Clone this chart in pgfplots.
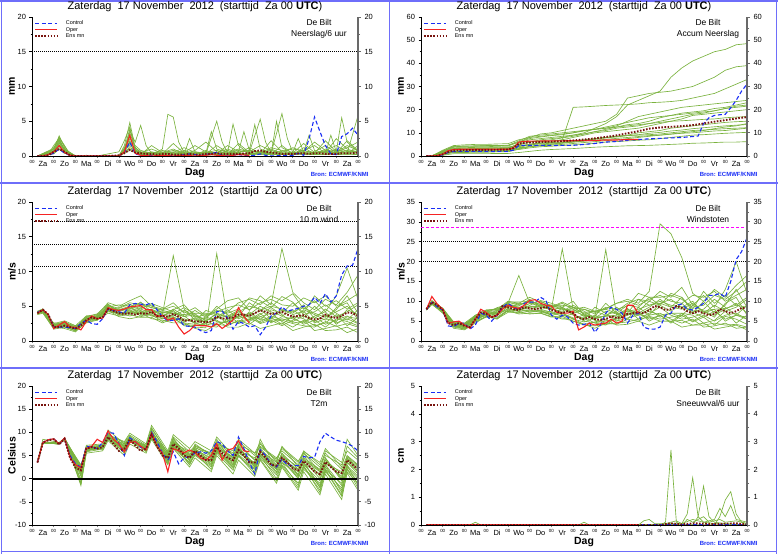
\documentclass[border=0pt]{standalone}
\usepackage{fontspec}
\setmainfont{Liberation Sans}
\usepackage{pgfplots}
\pgfplotsset{compat=1.18}

\definecolor{memg}{RGB}{122,178,62}
\definecolor{ctrlc}{RGB}{25,45,245}
\definecolor{operc}{RGB}{245,35,35}
\definecolor{ensc}{RGB}{120,20,15}
\definecolor{framec}{RGB}{110,110,250}
\definecolor{magc}{RGB}{255,0,255}
\definecolor{raxc}{RGB}{105,105,105}

\newcommand{\fs}[1]{\fontsize{#1}{#1}\selectfont}

\tikzset{
  debilt/.style={font=\fontsize{8.5}{10.5}\selectfont, align=center, anchor=center, xshift=-39bp, yshift=-12bp},
  bron/.style={font=\fs{6}\bfseries, text=ctrlc, anchor=east, xshift=14bp, yshift=-18bp},
}

\pgfplotsset{
  memb/.style={color=memg, line width=0.65bp, forget plot},
  ctl/.style={color=ctrlc, line width=1.1bp, dash pattern=on 4bp off 2.5bp},
  opr/.style={color=operc, line width=1.1bp},
  ens/.style={color=ensc, line width=1.9bp, dash pattern=on 1.6bp off 1.5bp},
  hl/.style={black, line width=0.6bp, dash pattern=on 0.8bp off 1.2bp, forget plot},
  panel/.style={
    scale only axis, width=326bp, height=139bp, anchor=south west,
    xmin=0, xmax=15, clip=true, clip mode=individual,
    axis x line*=bottom, axis y line*=left,
    axis line style={line width=0.6bp, black},
    tick align=outside,
    major tick length=2.5bp, minor tick length=1.5bp,
    xtick={0,...,15}, xticklabel={00},
    x tick label style={font=\fs{4.5}, yshift=1.5bp},
    minor x tick num=3,
    xtick style={gray, line width=0.7bp},
    extra x ticks={0.5,1.5,...,14.5},
    extra x tick labels={Za,Zo,Ma,Di,Wo,Do,Vr,Za,Zo,Ma,Di,Wo,Do,Vr,Za},
    extra x tick style={major tick length=0pt, x tick label style={font=\fs{7.5}, yshift=-3.5bp}},
    y tick label style={font=\fs{7.5}},
    ytick style={black, line width=0.5bp},
    minor y tick num=1,
    /pgf/number format/assume math mode=true,
    xlabel={Dag},
    xlabel style={font=\fs{10.5}\bfseries, at={(0.5,0)}, anchor=center, yshift=-17bp},
    ylabel style={font=\fs{10.5}\bfseries, at={(0,0.5)}, anchor=center, yshift=20bp},
    title style={font=\fs{11}, at={(0.5,1)}, anchor=center, yshift=4bp},
    title={Zaterdag\ \ 17 November\ \ 2012\ \ (starttijd\ \ Za 00 \textbf{UTC})},
    legend style={at={(0,1)}, anchor=north west, xshift=2bp, yshift=-3bp, draw=none, fill=none, font=\fs{5.5}, inner sep=0pt, row sep=-0.5bp, nodes={inner sep=0.7bp}, /tikz/every odd column/.append style={column sep=7bp}},
    legend cell align=left,
    legend image code/.code={\draw[##1] (0bp,0bp) -- (22bp,0bp);},
  },
  rightaxis/.style={
    scale only axis, width=326bp, height=139bp, anchor=south west,
    xmin=0, xmax=15,
    axis x line=none, axis y line*=right,
    y axis line style={line width=1.8bp, raxc},
    tick align=outside, major tick length=3bp, minor tick length=2bp,
    ytick style={raxc, line width=0.8bp},
    minor y tick num=1,
    y tick label style={font=\fs{7.5}},
    /pgf/number format/assume math mode=true,
  },
}

\begin{document}
\begin{tikzpicture}[x=1bp,y=1bp]
\path[use as bounding box] (0,0) rectangle (778,554);
\draw[framec, line width=1.5bp] (1.5,2.5) -- (776.5,2.5);
\draw[framec, line width=1.5bp] (1.5,0) -- (1.5,554);
\draw[framec, line width=1.5bp] (389.5,0) -- (389.5,554);
\draw[framec, line width=1.5bp] (776.5,0) -- (776.5,554);
\draw[framec, line width=1.5bp] (0,371) -- (778,371);
\draw[framec, line width=1.5bp] (0,186) -- (778,186);
\draw[framec, line width=1.5bp] (0,553) -- (778,553);

%================ Panel 1: Neerslag/6 uur
\begin{axis}[panel, at={(32bp,398bp)}, ymin=0, ymax=20, ytick={0,5,...,20}, ylabel={mm}]
\addplot[hl] coordinates {(0,15)(15,15)};
\addplot[memb] coordinates {(0.25,0)(0.75,0.1)(1,0.8)(1.25,2.9)(1.5,1.2)(1.75,0.2)(2,0)(4,0)(4.25,1.5)(4.5,4.8)(4.75,1.2)(5,0.4)(5.5,0.2)(6,1.0)(6.25,6.0)(6.5,5.6)(6.75,2.0)(7,0.5)(7.5,0.3)(8,0.5)(8.5,0.2)(9,0.8)(9.5,0.3)(10,0.2)(10.5,0.6)(11,0.2)(11.5,1.5)(12,0.3)(12.5,0.5)(13,0.2)(13.5,1.0)(14,0.4)(14.5,0.8)(15,0.5)};
\addplot[memb] coordinates {(0.25,0)(0.75,0.2)(1,1.2)(1.25,2.4)(1.5,0.6)(1.75,0.1)(2,0)(4,0.1)(4.25,0.8)(4.5,3.6)(4.75,2.0)(5,4.4)(5.25,1.5)(5.5,0.4)(6,0.2)(6.5,0.5)(7,0.3)(7.25,2.5)(7.5,0.6)(8,0.3)(8.5,5.0)(8.75,2.0)(9,0.4)(9.5,0.2)(10,0.5)(10.5,5.3)(10.75,2.0)(11,0.5)(11.5,0.3)(12,0.2)(12.5,1.2)(13,0.3)(13.5,0.2)(14,0.6)(14.25,5.5)(14.5,2.0)(15,0.6)};
\addplot[memb] coordinates {(0.25,0)(1,0.6)(1.25,1.8)(1.5,0.8)(2,0)(3,0)(3.5,0.3)(4,0.6)(4.25,2.2)(4.5,4.2)(4.75,0.8)(5,0.3)(5.5,0.2)(6,0.4)(6.5,0.3)(7,0.2)(7.5,0.5)(8,0.4)(8.25,3.5)(8.5,1.0)(9,0.5)(9.25,4.6)(9.5,1.5)(10,0.3)(10.5,0.4)(11,0.3)(11.25,5.0)(11.5,1.2)(12,0.4)(12.5,0.3)(13,0.2)(13.5,0.3)(13.75,3.0)(14,0.6)(14.5,0.4)(15,5.8)};
\addplot[memb] coordinates {(0.25,0)(1,0.3)(1.25,1.0)(1.5,0.4)(2,0)(4,0)(4.5,1.5)(5,0.3)(6,0.1)(7,0.2)(8,0.1)(9,0.3)(10,0.2)(11,0.3)(12,0.2)(13,0.3)(14,0.2)(15,0.3)};
\addplot[memb] coordinates {(0.25,0)(0.75,0.3)(1,1.5)(1.25,2.6)(1.5,1.4)(1.75,0.3)(2,0)(4,0)(4.25,1.2)(4.5,2.8)(4.75,0.5)(5,0.2)(5.5,1.5)(6,0.5)(6.5,1.0)(7,0.3)(7.5,0.8)(8,2.0)(8.5,0.6)(9,0.3)(9.5,0.6)(9.75,3.5)(10,0.8)(10.25,4.5)(10.5,1.0)(11,0.4)(11.5,6.1)(11.75,2.5)(12,0.5)(12.5,0.3)(13,0.6)(13.5,1.5)(14,0.5)(14.5,1.2)(15,2.0)};
\addplot[memb] coordinates {(0.25,0)(1,0.9)(1.25,2.0)(1.5,1.0)(2,0)(4,0)(4.25,0.5)(4.5,2.2)(4.75,0.8)(5,0.2)(5.5,0.6)(6,0.3)(6.5,0.2)(7,0.6)(7.5,0.3)(8,0.5)(8.5,0.8)(9,0.3)(9.5,0.4)(10,1.2)(10.5,0.4)(11,0.8)(11.5,0.3)(12,0.5)(12.25,2.5)(12.5,0.6)(12.75,3.0)(13,0.8)(13.5,0.4)(14,0.3)(14.5,0.5)(15,0.4)};
\addplot[memb] coordinates {(0.25,0)(1,0.5)(1.25,1.4)(1.5,0.5)(2,0)(4,0)(4.5,1.0)(5,0.4)(5.5,0.3)(6,0.2)(6.5,0.6)(7,0.4)(7.5,0.3)(8,0.2)(8.5,0.5)(9,1.0)(9.5,0.4)(10,0.3)(10.5,0.5)(11,0.3)(11.5,0.2)(12,0.4)(12.5,0.8)(13,1.5)(13.5,0.4)(14,1.0)(14.5,0.3)(15,0.6)};
\addplot[memb] coordinates {(0.25,0)(1,0.7)(1.25,2.2)(1.5,0.9)(2,0)(4,0)(4.25,0.6)(4.5,3.3)(4.75,1.2)(5,0.5)(5.5,0.3)(6,0.4)(6.5,0.3)(7,0.4)(7.5,0.2)(8,0.6)(8.5,0.3)(9,0.6)(9.5,0.3)(10,0.4)(10.5,0.2)(11,0.5)(11.5,0.3)(12,0.6)(12.5,0.4)(13,0.3)(13.5,0.6)(14,0.4)(14.5,2.2)(15,0.8)};
\addplot[memb] coordinates {(0.25,0)(1,1.0)(1.25,2.6)(1.5,0.7)(2,0)(2.5,0.1)(3,0)(4,0.1)(4.5,2.0)(4.75,0.5)(5,0.1)(6,0.3)(7,0.2)(8,0.3)(9,0.2)(10,0.3)(11,0.2)(12,0.3)(13,0.2)(14,0.3)(15,0.2)};
\addplot[memb] coordinates {(0.25,0)(1,0.4)(1.25,1.6)(1.5,0.6)(2,0)(4,0)(4.5,1.8)(5,0.6)(5.5,0.4)(6,0.6)(6.5,0.4)(7,0.3)(7.5,0.6)(8,0.4)(8.5,0.2)(9,0.4)(9.5,0.8)(10,0.5)(10.5,0.3)(11,1.0)(11.5,0.4)(12,0.3)(12.5,0.5)(13,0.4)(13.5,0.8)(14,1.5)(14.5,0.6)(15,1.0)};
\addplot[memb] coordinates {(0.25,0)(1,0.8)(1.25,2.3)(1.5,1.0)(2,0)(4,0)(4.25,0.8)(4.5,2.5)(4.75,1.5)(5,0.8)(5.5,0.4)(6,0.8)(6.5,0.5)(7,1.2)(7.5,0.5)(8,0.3)(8.5,1.5)(9,0.5)(9.5,1.0)(10,0.6)(10.5,1.5)(11,0.8)(11.5,0.5)(12,1.2)(12.5,0.6)(13,2.0)(13.5,0.8)(14,0.5)(14.5,1.5)(15,0.8)};
\addplot[memb] coordinates {(0.25,0)(1,0.6)(1.25,1.9)(1.5,0.8)(2,0)(4,0)(4.5,1.2)(5,0.5)(5.5,1.0)(6,0.4)(6.5,0.8)(7,0.5)(7.5,1.5)(8,0.6)(8.5,0.4)(9,1.5)(9.5,0.6)(10,0.8)(10.5,0.4)(11,1.2)(11.5,0.8)(12,0.4)(12.5,1.8)(13,0.5)(13.5,0.4)(14,2.5)(14.5,1.0)(15,0.5)};
\addplot[memb] coordinates {(0.25,0)(1,1.1)(1.25,2.7)(1.5,1.5)(1.75,0.2)(2,0)(4,0)(4.25,1.0)(4.5,3.9)(4.75,1.0)(5,0.2)(5.5,0.5)(6,0.3)(6.5,1.8)(7,0.4)(7.5,0.2)(8,0.8)(8.5,0.3)(9,0.2)(9.5,1.8)(10,0.5)(10.5,0.3)(11,2.2)(11.5,0.6)(12,0.3)(12.5,0.8)(13,0.4)(13.5,2.2)(14,0.6)(14.5,0.3)(15,1.5)};
\addplot[memb] coordinates {(0.25,0)(1,0.5)(1.25,1.2)(1.5,0.4)(2,0)(4,0)(4.5,0.8)(5,0.2)(6,0.5)(6.5,0.2)(7,0.8)(7.5,0.3)(8,0.5)(9,0.2)(10,0.8)(11,0.4)(12,1.0)(13,0.5)(14,0.8)(15,0.6)};
\addplot[ctl] coordinates {(0.25,0)(0.5,0)(0.75,0.1)(1,0.4)(1.25,1.0)(1.5,0.4)(1.75,0.1)(2,0)(4,0)(4.25,0.5)(4.5,2.0)(4.75,0.3)(5,0.1)(5.25,0)(5.5,0.1)(5.75,0)(6,0)(6.25,0.1)(6.5,0)(6.75,0.1)(7,0.2)(7.25,0.3)(7.5,0.2)(7.75,0.1)(8,0.2)(8.25,0.4)(8.5,0.5)(8.75,0.1)(9,0)(9.25,0.1)(9.5,0.2)(9.75,0.1)(10,0)(10.25,0.1)(10.5,0.3)(10.75,0.1)(11,0)(12,0.1)(12.25,0.4)(12.5,0.1)(12.75,2.5)(13,5.6)(13.25,3.5)(13.5,1.5)(13.75,0.3)(14,0.2)(14.25,2.8)(14.5,3.2)(14.75,4.0)(15,3.0)};
\addlegendentry{Control}
\addplot[opr] coordinates {(0.25,0)(0.5,0)(0.75,0.2)(1,0.6)(1.25,1.5)(1.5,0.5)(1.75,0.1)(2,0)(4,0)(4.25,0.6)(4.5,3.0)(4.75,0.4)(5,0.1)(5.5,0)(6,0.1)(6.5,0)(7,0.1)(7.5,0)(8,0.1)(8.25,0.2)(8.5,0.1)(9,0)(9.5,0.2)(10,0.1)};
\addlegendentry{Oper}
\addplot[ens] coordinates {(0.25,0)(0.5,0)(0.75,0.1)(1,0.6)(1.25,1.0)(1.5,0.6)(1.75,0.1)(2,0)(3.5,0)(3.75,0.05)(4,0.1)(4.25,0.4)(4.5,0.9)(4.75,0.5)(5,0.4)(5.25,0.3)(5.5,0.3)(5.75,0.2)(6,0.3)(6.25,0.3)(6.5,0.2)(6.75,0.2)(7,0.2)(7.25,0.3)(7.5,0.2)(7.75,0.2)(8,0.3)(8.25,0.3)(8.5,0.4)(8.75,0.3)(9,0.3)(9.5,0.3)(10,0.4)(10.25,0.7)(10.5,0.8)(10.75,0.6)(11,0.5)(11.25,0.4)(11.5,0.3)(12,0.3)(12.5,0.4)(12.75,0.3)(13,0.4)(13.25,0.4)(13.5,0.3)(14,0.3)(14.25,0.4)(14.75,0.4)(15,0.5)};
\addlegendentry{Ens mn}
\node[debilt] at (rel axis cs:1,1) {De Bilt\\Neerslag/6 uur};
\node[bron] at (rel axis cs:1,0) {Bron: ECMWF/KNMI};
\end{axis}
\begin{axis}[rightaxis, at={(32bp,398bp)}, ymin=0, ymax=20, ytick={0,5,...,20}]
\end{axis}

%================ Panel 2: Accum Neerslag
\begin{axis}[panel, at={(421bp,398bp)}, ymin=0, ymax=60, ytick={0,10,...,60}, ylabel={mm}]
\addplot[memb] coordinates {(0.25,0)(0.5,0)(1,1.5)(1.5,3.0)(2,3.0)(2.5,3.2)(3,3.2)(3.5,3.5)(4,3.5)(4.5,5.0)(5,6.0)(5.5,7.0)(6,7.5)(6.5,8.0)(7,9.0)(7.5,10.0)(8,12.0)(8.5,14.0)(9,17.0)(9.5,22.0)(10,24.0)(10.5,26.0)(11,28.0)(11.5,34.0)(12,38.0)(12.5,41.0)(13,43.0)(13.5,45.0)(14,46.0)(14.5,48.0)(15,48.5)};
\addplot[memb] coordinates {(0.25,0)(0.5,0)(1,2.0)(1.5,4.0)(2,4.2)(2.5,4.3)(3,4.5)(3.5,4.5)(4,4.6)(4.5,6.0)(5,8.0)(5.5,9.5)(6,10.0)(6.5,11.0)(7,12.0)(7.5,13.0)(8,14.0)(8.5,15.0)(9,18.0)(9.5,25.0)(10,26.0)(10.5,27.0)(11,27.5)(11.5,28.0)(12,29.0)(12.5,30.0)(13,32.0)(13.5,34.0)(14,37.0)(14.5,38.5)(15,39.0)};
\addplot[memb] coordinates {(0.25,0)(0.5,0)(1,1.0)(1.5,2.0)(2,2.0)(2.5,2.2)(3,2.2)(3.5,2.3)(4,2.3)(4.5,4.0)(5,5.0)(5.5,6.0)(6,6.5)(6.5,7.0)(7,21.0)(7.5,21.2)(8,21.5)(8.5,21.8)(9,22.0)(9.5,22.2)(10,22.5)(10.5,23.0)(11,23.2)(11.5,23.5)(12,24.0)(12.5,25.0)(13,26.0)(13.5,27.0)(14,29.0)(14.5,31.0)(15,33.0)};
\addplot[memb] coordinates {(0.25,0)(0.5,0)(1,2.5)(1.5,4.5)(2,4.8)(2.5,5.0)(3,5.0)(3.5,5.2)(4,5.3)(4.5,7.0)(5,8.0)(5.5,8.5)(6,9.0)(6.5,9.5)(7,10.0)(7.5,11.0)(8,11.5)(8.5,12.0)(9,13.0)(9.5,15.0)(10,17.0)(10.5,18.0)(11,19.0)(11.5,20.0)(12,21.0)(12.5,21.5)(13,22.0)(13.5,22.5)(14,23.0)(14.5,23.5)(15,24.0)};
\addplot[memb] coordinates {(0.25,0)(0.5,0)(1,1.2)(1.5,2.5)(2,2.6)(2.5,2.6)(3,2.7)(3.5,2.8)(4,2.8)(4.5,3.5)(5,5.0)(5.5,5.5)(6,6.0)(6.5,7.0)(7,8.0)(7.5,9.0)(8,10.0)(8.5,10.5)(9,11.0)(9.5,11.5)(10,12.0)(10.5,13.0)(11,14.0)(11.5,15.0)(12,16.0)(12.5,17.5)(13,18.0)(13.5,18.5)(14,19.0)(14.5,19.5)(15,20.0)};
\addplot[memb] coordinates {(0.25,0)(0.5,0)(1,0.5)(1.5,1.5)(2,1.5)(2.5,1.6)(3,1.6)(3.5,1.8)(4,1.8)(4.5,3.0)(5,4.0)(5.5,4.5)(6,5.0)(6.5,5.5)(7,6.0)(7.5,6.5)(8,7.5)(8.5,8.0)(9,8.5)(9.5,9.0)(10,10.0)(10.5,10.5)(11,11.0)(11.5,12.0)(12,12.5)(12.5,13.0)(13,13.5)(13.5,14.0)(14,14.5)(14.5,14.8)(15,15.0)};
\addplot[memb] coordinates {(0.25,0)(0.5,0)(1,1.8)(1.5,3.5)(2,3.6)(2.5,3.7)(3,3.8)(3.5,3.8)(4,3.9)(4.5,4.5)(5,5.0)(5.5,5.5)(6,5.8)(6.5,6.0)(7,6.5)(7.5,7.0)(8,7.5)(8.5,8.0)(9,8.5)(9.5,8.8)(10,9.0)(10.5,9.2)(11,9.5)(11.5,10.0)(12,10.5)(12.5,11.0)(13,11.2)(13.5,11.5)(14,11.8)(14.5,12.0)(15,12.2)};
\addplot[memb] coordinates {(0.25,0)(0.5,0)(1,0.8)(1.5,2.0)(2,2.0)(2.5,2.0)(3,2.1)(3.5,2.1)(4,2.2)(4.5,2.8)(5,3.5)(5.5,4.0)(6,4.2)(6.5,4.5)(7,4.8)(7.5,5.0)(8,5.5)(8.5,6.0)(9,6.2)(9.5,6.5)(10,6.8)(10.5,7.0)(11,7.5)(11.5,8.0)(12,8.5)(12.5,9.0)(13,9.2)(13.5,9.5)(14,9.8)(14.5,10.0)(15,10.2)};
\addplot[memb] coordinates {(0.25,0)(0.5,0)(1,0.3)(1.5,1.0)(2,1.0)(2.5,1.0)(3,1.0)(3.5,1.1)(4,1.1)(4.5,1.5)(5,2.0)(5.5,2.5)(6,2.8)(6.5,3.0)(7,3.2)(7.5,3.5)(8,3.8)(8.5,4.0)(9,4.2)(9.5,4.4)(10,4.5)(10.5,4.6)(11,4.8)(11.5,5.0)(12,5.2)(12.5,5.5)(13,5.6)(13.5,5.8)(14,6.0)(14.5,6.0)(15,6.2)};
\addplot[memb] coordinates {(0.25,0)(0.5,0)(1,2.2)(1.5,4.2)(2,4.3)(2.5,4.4)(3,4.4)(3.5,4.5)(4,4.6)(4.5,6.5)(5,8.5)(5.5,9.0)(6,9.5)(6.5,10.0)(7,10.5)(7.5,11.0)(8,11.5)(8.5,12.0)(9,12.5)(9.5,13.0)(10,13.5)(10.5,14.0)(11,14.5)(11.5,15.0)(12,15.2)(12.5,15.5)(13,15.8)(13.5,16.0)(14,16.5)(14.5,16.8)(15,17.0)};
\addplot[memb] coordinates {(0.25,0)(0.5,0)(1,1.4)(1.5,2.8)(2,2.9)(2.5,3.0)(3,3.0)(3.5,3.2)(4,3.2)(4.5,5.5)(5,7.0)(5.5,7.5)(6,8.0)(6.5,8.5)(7,9.0)(7.5,9.5)(8,10.5)(8.5,11.0)(9,12.0)(9.5,12.5)(10,13.0)(10.5,14.0)(11,15.0)(11.5,16.0)(12,17.0)(12.5,18.0)(13,18.5)(13.5,19.5)(14,20.5)(14.5,21.5)(15,22.0)};
\addplot[memb] coordinates {(0.25,0)(0.5,0)(1,1.6)(1.5,3.2)(2,3.3)(2.5,3.3)(3,3.4)(3.5,3.5)(4,3.6)(4.5,4.2)(5,4.8)(5.5,5.2)(6,5.5)(6.5,5.8)(7,6.2)(7.5,6.8)(8,7.2)(8.5,7.8)(9,8.2)(9.5,8.8)(10,9.2)(10.5,9.8)(11,10.2)(11.5,10.8)(12,11.2)(12.5,11.8)(13,12.2)(13.5,12.6)(14,13.0)(14.5,13.3)(15,13.6)};
\addplot[memb] coordinates {(0.25,0)(0.5,0)(1,1.3)(1.5,2.6)(2,2.6)(2.5,2.7)(3,2.7)(3.5,2.8)(4,2.9)(4.5,4.8)(5,6.0)(5.5,6.5)(6,7.0)(6.5,7.8)(7,8.5)(7.5,9.5)(8,10.5)(8.5,11.5)(9,12.5)(9.5,13.5)(10,14.0)(10.5,15.0)(11,16.5)(11.5,17.5)(12,18.5)(12.5,19.0)(13,19.5)(13.5,20.5)(14,21.0)(14.5,22.0)(15,23.0)};
\addplot[memb] coordinates {(0.25,0)(0.5,0)(1,0.8)(1.5,1.8)(2,1.9)(2.5,1.9)(3,2.0)(3.5,2.0)(4,2.1)(4.5,3.2)(5,4.2)(5.5,4.8)(6,5.2)(6.5,5.6)(7,6.0)(7.5,6.4)(8,6.8)(8.5,7.2)(9,7.6)(9.5,8.0)(10,8.4)(10.5,8.8)(11,9.0)(11.5,9.4)(12,9.8)(12.5,10.0)(13,10.4)(13.5,10.8)(14,11.0)(14.5,11.5)(15,12.0)};
\addplot[memb] coordinates {(0.25,0)(0.5,0)(1,2.0)(1.5,3.8)(2,3.9)(2.5,4.0)(3,4.0)(3.5,4.2)(4,4.3)(4.5,6.0)(5,7.5)(5.5,8.2)(6,8.8)(6.5,9.2)(7,10.0)(7.5,10.8)(8,11.5)(8.5,12.5)(9,13.5)(9.5,14.5)(10,15.5)(10.5,16.5)(11,17.0)(11.5,17.5)(12,18.0)(12.5,18.5)(13,19.0)(13.5,19.5)(14,20.5)(14.5,21.0)(15,21.5)};
\addplot[memb] coordinates {(0.25,0)(0.5,0)(1,1.0)(1.5,2.2)(2,2.3)(2.5,2.3)(3,2.4)(3.5,2.5)(4,2.5)(4.5,3.5)(5,4.0)(5.5,4.4)(6,4.7)(6.5,5.0)(7,5.4)(7.5,5.8)(8,6.2)(8.5,6.6)(9,7.0)(9.5,7.5)(10,8.0)(10.5,8.5)(11,9.0)(11.5,9.5)(12,10.0)(12.5,10.5)(13,11.0)(13.5,11.8)(14,12.5)(14.5,13.0)(15,14.0)};
\addplot[ctl] coordinates {(0.25,0)(0.75,0.1)(1,0.5)(1.25,1.5)(1.5,1.9)(1.75,2.0)(4,2.0)(4.25,2.5)(4.5,4.5)(4.75,4.6)(7,4.6)(7.5,5.0)(8,5.4)(8.5,6.0)(9,6.3)(9.5,6.8)(10,7.1)(10.5,7.4)(11,7.6)(11.5,7.8)(12,8.0)(12.5,8.4)(12.75,8.6)(13,14.0)(13.25,16.5)(13.5,17.5)(13.75,17.8)(14,18.0)(14.25,20.8)(14.5,24.0)(14.75,28.0)(15,31.0)};
\addlegendentry{Control}
\addplot[opr] coordinates {(0.25,0)(0.5,0)(0.75,0.2)(1,0.8)(1.25,2.3)(1.5,2.8)(1.75,2.9)(4,2.9)(4.25,3.5)(4.5,6.0)(4.75,6.3)(5,6.4)(6,6.5)(7,6.6)(8,6.7)(8.5,6.9)(9,6.9)(9.5,7.1)(10,7.2)};
\addlegendentry{Oper}
\addplot[ens] coordinates {(0.25,0)(0.5,0)(0.75,0.1)(1,0.7)(1.25,1.7)(1.5,2.3)(1.75,2.4)(2,2.5)(3,2.6)(3.5,2.7)(4,2.8)(4.25,3.4)(4.5,5.3)(4.75,5.7)(5,5.8)(5.5,6.0)(6,6.2)(6.5,6.4)(7,6.7)(7.5,7.1)(8,7.6)(8.5,8.2)(9,8.9)(9.5,9.8)(10,10.7)(10.5,11.8)(11,12.3)(11.5,12.6)(12,12.9)(12.5,13.3)(13,14.0)(13.5,14.8)(14,15.5)(14.5,16.2)(15,16.8)};
\addlegendentry{Ens mn}
\node[debilt] at (rel axis cs:1,1) {De Bilt\\Accum Neerslag};
\node[bron] at (rel axis cs:1,0) {Bron: ECMWF/KNMI};
\end{axis}
\begin{axis}[rightaxis, at={(421bp,398bp)}, ymin=0, ymax=60, ytick={0,10,...,60}]
\end{axis}

%================ Panel 3: 10 m wind
\begin{axis}[panel, at={(32bp,213bp)}, ymin=0, ymax=20, ytick={0,5,...,20}, ylabel={m/s}]
\addplot[hl] coordinates {(0,10.8)(15,10.8)};
\addplot[hl] coordinates {(0,13.9)(15,13.9)};
\addplot[hl] coordinates {(0,17.2)(15,17.2)};
\addplot[memb] coordinates {(0.25,4.2)(0.5,4.4)(1,2.3)(1.5,2.6)(2,1.9)(2.5,3.3)(3,3.6)(3.5,5.0)(4,4.4)(4.5,4.8)(5,4.2)(5.5,4.6)(6,3.8)(6.5,12.3)(7,4.6)(7.5,3.0)(8,2.8)(8.5,4.0)(9,3.5)(9.5,4.2)(10,5.0)(10.5,4.6)(11,3.2)(11.5,4.5)(12,3.8)(12.5,4.3)(13,2.6)(13.5,3.2)(14,2.8)(14.5,4.5)(15,3.8)};
\addplot[memb] coordinates {(0.25,3.9)(0.5,4.1)(1,1.7)(1.5,2.0)(2,1.5)(2.5,2.6)(3,3.0)(3.5,4.4)(4,3.5)(4.5,3.2)(5,3.5)(5.5,3.8)(6,2.8)(6.5,3.4)(7,2.2)(7.5,2.0)(8,1.9)(8.5,12.6)(9,3.0)(9.5,2.5)(10,3.1)(10.5,2.8)(11,3.6)(11.5,3.0)(12,2.5)(12.5,2.2)(13,2.0)(13.5,2.8)(14,2.1)(14.5,2.5)(15,2.0)};
\addplot[memb] coordinates {(0.25,4.3)(0.5,4.6)(1,2.5)(1.5,2.9)(2,2.2)(2.5,3.6)(3,3.8)(3.5,5.5)(4,5.0)(4.5,5.8)(5,6.5)(5.5,5.0)(6,4.6)(6.5,5.5)(7,4.0)(7.5,4.8)(8,3.6)(8.5,4.6)(9,5.8)(9.5,6.2)(10,4.4)(10.5,6.5)(11,5.2)(11.5,13.3)(12,7.0)(12.5,5.5)(13,4.5)(13.5,6.0)(14,5.2)(14.5,7.0)(15,9.5)};
\addplot[memb] coordinates {(0.25,4.0)(0.5,4.2)(1,2.0)(1.5,1.8)(2,1.3)(2.5,2.8)(3,3.2)(3.5,4.2)(4,4.0)(4.5,3.6)(5,4.0)(5.5,3.2)(6,3.0)(6.5,2.6)(7,2.6)(7.5,1.8)(8,1.5)(8.5,2.4)(9,2.2)(9.5,3.0)(10,2.4)(10.5,3.5)(11,4.0)(11.5,2.8)(12,2.0)(12.5,3.0)(13,1.5)(13.5,1.8)(14,2.2)(14.5,1.2)(15,1.8)};
\addplot[memb] coordinates {(0.25,4.1)(0.5,4.5)(1,2.2)(1.5,2.4)(2,2.0)(2.5,3.0)(3,3.4)(3.5,4.8)(4,4.5)(4.5,5.0)(5,3.8)(5.5,4.4)(6,4.2)(6.5,4.0)(7,3.5)(7.5,3.8)(8,2.5)(8.5,3.2)(9,4.2)(9.5,5.5)(10,6.0)(10.5,5.2)(11,6.5)(11.5,5.8)(12,6.8)(12.5,4.6)(13,5.8)(13.5,4.2)(14,6.5)(14.5,10.5)(15,6.0)};
\addplot[memb] coordinates {(0.25,3.8)(0.5,4.0)(1,1.8)(1.5,2.2)(2,1.6)(2.5,3.2)(3,3.5)(3.5,4.5)(4,3.8)(4.5,4.2)(5,4.6)(5.5,4.0)(6,3.5)(6.5,3.0)(7,3.2)(7.5,2.6)(8,3.5)(8.5,2.8)(9,2.6)(9.5,3.6)(10,3.0)(10.5,4.0)(11,2.6)(11.5,3.5)(12,3.2)(12.5,2.6)(13,3.5)(13.5,2.4)(14,3.0)(14.5,3.6)(15,2.6)};
\addplot[memb] coordinates {(0.25,4.2)(0.5,4.3)(1,2.4)(1.5,2.7)(2,1.8)(2.5,3.4)(3,3.0)(3.5,4.6)(4,4.6)(4.5,4.4)(5,4.8)(5.5,5.2)(6,4.0)(6.5,4.5)(7,5.2)(7.5,3.5)(8,3.2)(8.5,5.0)(9,3.8)(9.5,2.6)(10,4.2)(10.5,3.0)(11,4.5)(11.5,4.0)(12,5.5)(12.5,3.8)(13,4.2)(13.5,5.2)(14,4.0)(14.5,3.0)(15,4.5)};
\addplot[memb] coordinates {(0.25,4.0)(0.5,4.6)(1,2.1)(1.5,2.3)(2,1.7)(2.5,2.9)(3,3.7)(3.5,5.2)(4,4.2)(4.5,4.0)(5,4.4)(5.5,3.6)(6,3.2)(6.5,3.8)(7,2.8)(7.5,3.2)(8,2.2)(8.5,2.0)(9,3.2)(9.5,4.2)(10,3.5)(10.5,2.5)(11,3.0)(11.5,2.2)(12,3.0)(12.5,4.5)(13,3.8)(13.5,3.0)(14,4.8)(14.5,5.5)(15,3.0)};
\addplot[memb] coordinates {(0.25,4.1)(0.5,4.4)(1,2.6)(1.5,2.5)(2,2.1)(2.5,3.1)(3,3.3)(3.5,4.4)(4,4.8)(4.5,5.5)(5,5.2)(5.5,4.8)(6,4.4)(6.5,4.0)(7,3.8)(7.5,4.0)(8,4.0)(8.5,3.6)(9,3.0)(9.5,3.5)(10,5.5)(10.5,4.4)(11,5.0)(11.5,4.6)(12,4.0)(12.5,5.2)(13,3.2)(13.5,4.6)(14,3.5)(14.5,4.2)(15,5.2)};
\addplot[memb] coordinates {(0.25,3.9)(0.5,4.2)(1,1.9)(1.5,2.1)(2,1.4)(2.5,2.7)(3,3.1)(3.5,4.0)(4,3.6)(4.5,3.8)(5,3.4)(5.5,3.4)(6,2.6)(6.5,3.2)(7,2.4)(7.5,2.2)(8,2.6)(8.5,3.0)(9,2.0)(9.5,2.0)(10,2.6)(10.5,1.8)(11,2.2)(11.5,2.6)(12,1.5)(12.5,2.0)(13,2.4)(13.5,1.5)(14,1.6)(14.5,2.0)(15,1.2)};
\addplot[memb] coordinates {(0.25,4.2)(0.5,4.5)(1,2.3)(1.5,2.8)(2,1.9)(2.5,3.5)(3,3.9)(3.5,5.3)(4,4.3)(4.5,4.6)(5,5.6)(5.5,4.2)(6,3.9)(6.5,3.6)(7,4.4)(7.5,3.6)(8,3.0)(8.5,3.4)(9,4.5)(9.5,3.2)(10,3.8)(10.5,5.0)(11,4.2)(11.5,3.6)(12,4.5)(12.5,3.4)(13,5.0)(13.5,3.5)(14,4.5)(14.5,6.5)(15,4.0)};
\addplot[memb] coordinates {(0.25,4.0)(0.5,4.3)(1,2.0)(1.5,2.4)(2,1.6)(2.5,3.0)(3,3.4)(3.5,4.7)(4,4.0)(4.5,4.3)(5,4.0)(5.5,4.5)(6,3.6)(6.5,4.4)(7,3.0)(7.5,2.8)(8,4.4)(8.5,3.8)(9,2.4)(9.5,2.8)(10,3.2)(10.5,3.5)(11,3.0)(11.5,3.2)(12,2.8)(12.5,3.6)(13,2.8)(13.5,3.8)(14,2.6)(14.5,3.2)(15,2.5)};
\addplot[memb] coordinates {(0.25,4.1)(0.5,4.6)(1,2.2)(1.5,2.0)(2,1.5)(2.5,3.2)(3,3.0)(3.5,4.9)(4,5.2)(4.5,5.0)(5,5.5)(5.5,4.8)(6,4.5)(6.5,5.0)(7,4.2)(7.5,3.4)(8,3.8)(8.5,4.2)(9,4.8)(9.5,5.2)(10,4.5)(10.5,5.5)(11,6.0)(11.5,5.2)(12,5.0)(12.5,6.2)(13,5.5)(13.5,6.5)(14,5.0)(14.5,5.8)(15,6.8)};
\addplot[memb] coordinates {(0.25,3.9)(0.5,4.3)(1,2.0)(1.5,2.6)(2,2.2)(2.5,2.8)(3,3.6)(3.5,4.3)(4,3.9)(4.5,4.5)(5,3.6)(5.5,4.1)(6,3.2)(6.5,3.5)(7,2.6)(7.5,2.4)(8,3.0)(8.5,3.3)(9,3.6)(9.5,4.4)(10,2.8)(10.5,3.8)(11,4.8)(11.5,3.8)(12,2.6)(12.5,2.8)(13,3.6)(13.5,4.2)(14,2.4)(14.5,3.5)(15,3.2)};
\addplot[memb] coordinates {(0.25,4.2)(0.5,4.4)(1,2.4)(1.5,2.3)(2,1.7)(2.5,3.6)(3,3.3)(3.5,5.1)(4,4.7)(4.5,5.3)(5,4.6)(5.5,5.4)(6,4.8)(6.5,4.2)(7,3.5)(7.5,4.4)(8,3.4)(8.5,4.4)(9,4.0)(9.5,4.6)(10,6.2)(10.5,5.8)(11,4.8)(11.5,6.4)(12,5.6)(12.5,4.0)(13,6.5)(13.5,5.0)(14,5.8)(14.5,4.6)(15,5.5)};
\addplot[memb] coordinates {(0.25,4.0)(0.5,4.5)(1,1.9)(1.5,2.5)(2,1.8)(2.5,2.9)(3,3.5)(3.5,4.6)(4,4.1)(4.5,3.9)(5,4.2)(5.5,3.7)(6,3.4)(6.5,4.6)(7,3.6)(7.5,2.5)(8,2.3)(8.5,2.6)(9,2.8)(9.5,3.4)(10,4.0)(10.5,2.6)(11,3.4)(11.5,2.4)(12,3.6)(12.5,3.2)(13,2.2)(13.5,2.6)(14,3.8)(14.5,2.2)(15,3.4)};
\addplot[memb] coordinates {(0.25,4.1)(0.5,4.4)(1,2.1)(1.5,2.2)(2,2.0)(2.5,3.2)(3,3.8)(3.5,4.5)(4,4.4)(4.5,4.7)(5,5.0)(5.5,4.3)(6,4.1)(6.5,3.9)(7,4.8)(7.5,3.9)(8,2.9)(8.5,3.9)(9,3.4)(9.5,3.9)(10,3.6)(10.5,4.4)(11,5.5)(11.5,4.4)(12,4.2)(12.5,4.8)(13,4.0)(13.5,3.4)(14,4.2)(14.5,5.0)(15,3.6)};
\addplot[memb] coordinates {(0.25,4.0)(0.5,4.2)(1,2.2)(1.5,2.7)(2,1.6)(2.5,3.3)(3,3.2)(3.5,4.9)(4,3.7)(4.5,4.1)(5,3.9)(5.5,3.9)(6,3.7)(6.5,3.4)(7,2.9)(7.5,3.3)(8,2.7)(8.5,2.3)(9,2.9)(9.5,3.9)(10,3.4)(10.5,3.2)(11,2.8)(11.5,3.0)(12,3.4)(12.5,2.4)(13,3.0)(13.5,2.0)(14,3.2)(14.5,2.8)(15,2.2)};
\addplot[ctl] coordinates {(0.25,4.1)(0.5,4.5)(0.75,3.8)(1,2.0)(1.25,2.0)(1.5,2.0)(1.75,1.9)(2,1.8)(2.25,2.5)(2.5,3.0)(2.75,2.5)(3,2.4)(3.25,3.2)(3.5,4.6)(3.75,4.4)(4,4.2)(4.25,4.0)(4.5,5.2)(4.75,5.4)(5,5.3)(5.25,5.2)(5.5,5.5)(5.75,4.5)(6,3.5)(6.25,2.9)(6.5,3.0)(6.75,3.2)(7,2.2)(7.25,2.1)(7.5,2.0)(7.75,1.5)(8,1.2)(8.25,1.5)(8.5,4.2)(8.75,4.3)(9,3.3)(9.25,1.7)(9.5,2.8)(9.75,2.5)(10,2.0)(10.25,2.2)(10.5,0.9)(10.75,2.0)(11,3.6)(11.25,4.0)(11.5,4.9)(11.75,4.3)(12,4.5)(12.25,4.7)(12.5,5.0)(12.75,5.2)(13,6.3)(13.25,5.4)(13.5,6.8)(13.75,5.6)(14,6.5)(14.25,9.5)(14.5,10.8)(14.75,10.9)(15,13.3)};
\addlegendentry{Control}
\addplot[opr] coordinates {(0.25,4.0)(0.5,4.5)(0.75,3.8)(1,1.8)(1.25,2.3)(1.5,2.8)(1.75,2.0)(2,2.0)(2.25,1.6)(2.5,2.8)(2.75,3.6)(3,3.2)(3.25,3.3)(3.5,4.8)(3.75,4.5)(4,4.4)(4.25,4.6)(4.5,4.9)(4.75,5.0)(5,5.1)(5.25,4.5)(5.5,4.5)(5.75,3.5)(6,3.7)(6.25,3.0)(6.5,3.3)(6.75,2.0)(7,1.0)(7.25,1.5)(7.5,2.3)(7.75,2.2)(8,2.2)(8.25,2.0)(8.5,2.5)(8.75,1.8)(9,2.4)(9.25,3.0)(9.5,4.8)(9.75,3.5)(10,2.6)};
\addlegendentry{Oper}
\addplot[ens] coordinates {(0.25,4.0)(0.5,4.5)(0.75,3.8)(1,2.0)(1.25,2.0)(1.5,2.2)(1.75,2.0)(2,1.8)(2.25,2.2)(2.5,3.0)(2.75,3.4)(3,3.2)(3.25,3.4)(3.5,4.6)(3.75,4.3)(4,4.0)(4.25,3.9)(4.5,4.0)(4.75,3.8)(5,4.0)(5.25,3.9)(5.5,4.2)(5.75,3.6)(6,3.6)(6.25,3.5)(6.5,3.9)(6.75,3.5)(7,2.9)(7.25,3.0)(7.5,2.8)(7.75,2.8)(8,2.7)(8.25,2.8)(8.5,3.5)(8.75,3.2)(9,3.3)(9.25,3.4)(9.5,3.8)(9.75,3.8)(10,3.6)(10.25,4.0)(10.5,4.4)(10.75,4.2)(11,3.9)(11.25,4.0)(11.5,4.2)(11.75,3.8)(12,3.5)(12.25,3.6)(12.5,3.7)(12.75,3.3)(13,3.1)(13.25,3.2)(13.5,3.8)(13.75,3.5)(14,3.3)(14.25,3.6)(14.5,4.1)(14.75,4.0)(15,3.6)};
\addlegendentry{Ens mn}
\node[debilt] at (rel axis cs:1,1) {De Bilt\\10 m wind};
\node[bron] at (rel axis cs:1,0) {Bron: ECMWF/KNMI};
\end{axis}
\begin{axis}[rightaxis, at={(32bp,213bp)}, ymin=0, ymax=20, ytick={0,5,...,20}]
\end{axis}

%================ Panel 4: Windstoten
\begin{axis}[panel, at={(421bp,213bp)}, ymin=0, ymax=35, ytick={0,5,...,35}, ylabel={m/s}]
\addplot[hl] coordinates {(0,20)(15,20)};
\addplot[hl] coordinates {(0,25)(15,25)};
\addplot[magc, line width=0.9bp, dash pattern=on 3bp off 2bp, forget plot] coordinates {(0,28.5)(15,28.5)};
\addplot[memb] coordinates {(0.25,8.1)(0.5,9.6)(1,7.6)(1.5,4.3)(2,3.6)(2.5,5.8)(3,7.0)(3.5,7.2)(4,9.0)(4.5,8.4)(5,8.8)(5.5,8.6)(6,8.0)(6.5,23.2)(7,8.0)(7.5,6.2)(8,6.0)(8.5,23.0)(9,6.5)(9.5,7.5)(10,8.0)(10.5,9.0)(11,9.5)(11.5,10.5)(12,8.5)(12.5,7.5)(13,7.5)(13.5,8.0)(14,8.2)(14.5,9.0)(15,8.5)};
\addplot[memb] coordinates {(0.25,7.8)(0.5,9.2)(1,7.2)(1.5,3.5)(2,3.0)(2.5,4.8)(3,6.0)(3.5,5.8)(4,7.6)(4.5,6.8)(5,7.0)(5.5,7.0)(6,6.2)(6.5,5.8)(7,5.0)(7.5,4.0)(8,3.8)(8.5,4.2)(9,4.5)(9.5,4.8)(10,5.5)(10.5,6.0)(11,5.0)(11.5,5.0)(12,5.2)(12.5,4.0)(13,4.0)(13.5,4.5)(14,4.0)(14.5,4.2)(15,3.5)};
\addplot[memb] coordinates {(0.25,8.2)(0.5,10.2)(1,8.2)(1.5,4.8)(2,4.5)(2.5,6.5)(3,7.8)(3.5,8.0)(4,10.0)(4.5,9.5)(5,11.0)(5.5,9.8)(6,9.0)(6.5,9.0)(7,8.5)(7.5,8.0)(8,7.2)(8.5,8.0)(9,9.5)(9.5,10.5)(10,9.5)(10.5,12.5)(11,29.5)(11.5,27.0)(12,21.0)(12.5,12.0)(13,10.0)(13.5,13.0)(14,11.0)(14.5,14.0)(15,16.5)};
\addplot[memb] coordinates {(0.25,7.9)(0.5,9.4)(1,7.4)(1.5,3.6)(2,3.2)(2.5,5.0)(3,6.2)(3.5,5.5)(4,7.8)(4.5,7.0)(5,7.5)(5.5,7.5)(6,6.5)(6.5,5.5)(7,5.5)(7.5,4.2)(8,3.2)(8.5,4.5)(9,4.2)(9.5,5.5)(10,5.0)(10.5,6.5)(11,7.0)(11.5,5.5)(12,4.5)(12.5,5.5)(13,3.5)(13.5,3.8)(14,4.5)(14.5,3.2)(15,3.5)};
\addplot[memb] coordinates {(0.25,8.0)(0.5,9.9)(1,8.0)(1.5,4.4)(2,4.0)(2.5,6.0)(3,7.2)(3.5,7.0)(4,9.2)(4.5,8.5)(5,8.5)(5.5,9.0)(6,8.5)(6.5,8.0)(7,7.5)(7.5,6.5)(8,5.5)(8.5,6.5)(9,7.5)(9.5,9.5)(10,10.5)(10.5,10.0)(11,12.5)(11.5,11.0)(12,13.5)(12.5,9.0)(13,11.5)(13.5,8.5)(14,13.0)(14.5,20.0)(15,12.0)};
\addplot[memb] coordinates {(0.25,7.9)(0.5,9.5)(1,7.7)(1.5,3.9)(2,3.8)(2.5,5.5)(3,6.6)(3.5,6.4)(4,8.2)(4.5,7.6)(5,8.8)(5.5,8.0)(6,7.2)(6.5,6.2)(7,6.8)(7.5,5.2)(8,6.5)(8.5,5.2)(9,5.0)(9.5,7.0)(10,6.5)(10.5,8.0)(11,6.0)(11.5,7.0)(12,7.0)(12.5,5.0)(13,6.5)(13.5,5.0)(14,6.5)(14.5,7.0)(15,5.5)};
\addplot[memb] coordinates {(0.25,8.2)(0.5,9.8)(1,8.1)(1.5,4.6)(2,4.2)(2.5,6.2)(3,6.4)(3.5,7.5)(4,9.5)(4.5,8.0)(5,9.5)(5.5,10.0)(6,8.8)(6.5,8.5)(7,10.0)(7.5,6.5)(8,6.2)(8.5,9.5)(9,7.0)(9.5,5.5)(10,8.5)(10.5,6.5)(11,9.5)(11.5,8.5)(12,11.0)(12.5,7.5)(13,8.0)(13.5,10.5)(14,8.5)(14.5,6.5)(15,9.0)};
\addplot[memb] coordinates {(0.25,7.8)(0.5,10.0)(1,7.5)(1.5,3.8)(2,3.4)(2.5,5.2)(3,7.6)(3.5,8.2)(4,8.8)(4.5,7.8)(5,8.4)(5.5,7.5)(6,7.0)(6.5,7.0)(7,5.8)(7.5,6.0)(8,4.5)(8.5,4.0)(9,6.0)(9.5,8.0)(10,7.0)(10.5,5.5)(11,6.5)(11.5,4.5)(12,6.5)(12.5,9.0)(13,7.5)(13.5,6.0)(14,9.5)(14.5,11.0)(15,6.5)};
\addplot[memb] coordinates {(0.25,8.0)(0.5,9.7)(1,7.9)(1.5,4.8)(2,4.4)(2.5,6.0)(3,7.2)(3.5,6.8)(4,9.8)(4.5,9.8)(5,10.0)(5.5,9.2)(6,9.0)(6.5,8.0)(7,7.8)(7.5,7.2)(8,7.5)(8.5,6.5)(9,6.0)(9.5,7.0)(10,10.5)(10.5,9.0)(11,10.0)(11.5,9.0)(12,8.5)(12.5,10.0)(13,7.0)(13.5,9.0)(14,7.5)(14.5,8.5)(15,10.5)};
\addplot[memb] coordinates {(0.25,7.8)(0.5,9.3)(1,7.0)(1.5,3.2)(2,2.8)(2.5,4.5)(3,6.2)(3.5,5.6)(4,7.2)(4.5,7.2)(5,6.8)(5.5,7.0)(6,6.0)(6.5,6.2)(7,5.0)(7.5,4.2)(8,4.8)(8.5,5.5)(9,4.0)(9.5,4.2)(10,5.0)(10.5,4.0)(11,5.0)(11.5,5.0)(12,3.5)(12.5,4.0)(13,4.5)(13.5,3.0)(14,3.5)(14.5,4.0)(15,2.8)};
\addplot[memb] coordinates {(0.25,8.2)(0.5,9.6)(1,8.3)(1.5,4.5)(2,4.0)(2.5,6.4)(3,7.8)(3.5,7.8)(4,9.0)(4.5,8.8)(5,10.5)(5.5,8.6)(6,8.2)(6.5,7.2)(7,8.5)(7.5,6.8)(8,6.0)(8.5,6.2)(9,8.5)(9.5,6.5)(10,7.5)(10.5,10.0)(11,9.0)(11.5,7.5)(12,9.5)(12.5,7.0)(13,10.0)(13.5,7.0)(14,9.0)(14.5,13.0)(15,8.5)};
\addplot[memb] coordinates {(0.25,7.9)(0.5,9.5)(1,7.8)(1.5,4.2)(2,3.5)(2.5,5.4)(3,6.8)(3.5,6.6)(4,8.6)(4.5,8.2)(5,8.0)(5.5,8.8)(6,7.8)(6.5,8.5)(7,6.5)(7.5,5.5)(8,8.5)(8.5,7.0)(9,5.0)(9.5,5.8)(10,6.5)(10.5,7.5)(11,6.5)(11.5,7.0)(12,6.0)(12.5,7.2)(13,6.0)(13.5,7.5)(14,5.5)(14.5,6.5)(15,5.5)};
\addplot[memb] coordinates {(0.25,8.0)(0.5,9.6)(1,7.6)(1.5,4.0)(2,3.9)(2.5,5.8)(3,6.9)(3.5,7.0)(4,9.5)(4.5,16.5)(5,9.5)(5.5,9.0)(6,8.5)(6.5,9.5)(7,8.0)(7.5,8.5)(8,7.5)(8.5,8.0)(9,7.0)(9.5,9.0)(10,8.5)(10.5,11.0)(11,11.0)(11.5,11.5)(12,10.5)(12.5,8.5)(13,9.0)(13.5,11.5)(14,10.5)(14.5,12.5)(15,15.0)};
\addplot[memb] coordinates {(0.25,8.0)(0.5,9.8)(1,7.8)(1.5,4.1)(2,3.3)(2.5,6.2)(3,7.4)(3.5,7.6)(4,9.8)(4.5,9.0)(5,10.0)(5.5,9.2)(6,8.6)(6.5,9.8)(7,8.5)(7.5,6.8)(8,7.5)(8.5,8.2)(9,9.5)(9.5,10.0)(10,9.0)(10.5,10.5)(11,11.5)(11.5,10.0)(12,9.5)(12.5,11.5)(13,11.0)(13.5,12.5)(14,10.0)(14.5,11.5)(15,13.0)};
\addplot[memb] coordinates {(0.25,7.9)(0.5,9.4)(1,7.5)(1.5,4.4)(2,4.0)(2.5,5.6)(3,6.5)(3.5,6.0)(4,7.8)(4.5,8.0)(5,7.2)(5.5,7.8)(6,6.5)(6.5,7.0)(7,5.5)(7.5,4.8)(8,5.8)(8.5,6.2)(9,6.5)(9.5,8.2)(10,5.5)(10.5,7.0)(11,8.5)(11.5,6.5)(12,5.5)(12.5,6.0)(13,7.0)(13.5,8.0)(14,5.0)(14.5,6.5)(15,6.0)};
\addplot[memb] coordinates {(0.25,8.1)(0.5,9.7)(1,8.0)(1.5,4.6)(2,3.7)(2.5,6.5)(3,7.0)(3.5,8.4)(4,9.2)(4.5,9.5)(5,9.0)(5.5,10.2)(6,9.5)(6.5,8.5)(7,7.0)(7.5,8.0)(8,6.8)(8.5,8.5)(9,8.0)(9.5,8.8)(10,12.0)(10.5,11.0)(11,9.0)(11.5,12.0)(12,11.0)(12.5,8.0)(13,12.5)(13.5,9.5)(14,11.5)(14.5,9.0)(15,11.0)};
\addplot[memb] coordinates {(0.25,7.8)(0.5,9.6)(1,7.3)(1.5,3.7)(2,3.5)(2.5,5.0)(3,6.8)(3.5,6.9)(4,8.0)(4.5,7.4)(5,7.8)(5.5,7.2)(6,6.8)(6.5,8.2)(7,6.8)(7.5,5.0)(8,4.6)(8.5,5.0)(9,5.5)(9.5,6.5)(10,7.5)(10.5,5.0)(11,6.5)(11.5,4.8)(12,7.0)(12.5,6.5)(13,4.5)(13.5,5.2)(14,7.5)(14.5,4.5)(15,6.5)};
\addplot[memb] coordinates {(0.25,8.0)(0.5,9.5)(1,7.7)(1.5,4.5)(2,4.2)(2.5,6.0)(3,7.6)(3.5,8.0)(4,8.5)(4.5,9.2)(5,9.8)(5.5,8.4)(6,8.0)(6.5,7.5)(7,9.0)(7.5,7.5)(8,5.8)(8.5,7.5)(9,6.8)(9.5,7.6)(10,7.0)(10.5,8.5)(11,10.5)(11.5,8.5)(12,8.0)(12.5,9.5)(13,7.5)(13.5,6.5)(14,8.0)(14.5,9.5)(15,7.0)};
\addplot[memb] coordinates {(0.25,7.9)(0.5,9.3)(1,7.9)(1.5,3.9)(2,3.0)(2.5,5.6)(3,6.4)(3.5,7.8)(4,7.4)(4.5,7.9)(5,7.6)(5.5,7.6)(6,7.4)(6.5,6.6)(7,5.6)(7.5,6.6)(8,5.2)(8.5,4.5)(9,5.6)(9.5,7.6)(10,6.6)(10.5,6.2)(11,5.5)(11.5,6.0)(12,6.5)(12.5,4.8)(13,6.0)(13.5,4.0)(14,6.2)(14.5,5.5)(15,4.2)};
\addplot[ctl] coordinates {(0.25,7.9)(0.5,9.7)(0.75,8.6)(1,7.8)(1.25,3.8)(1.5,3.6)(1.75,4.5)(2,4.5)(2.25,3.0)(2.5,4.0)(2.75,7.0)(3,6.5)(3.25,5.0)(3.5,6.5)(3.75,8.5)(4,9.5)(4.25,8.5)(4.5,7.8)(4.75,9.5)(5,9.8)(5.25,9.8)(5.5,11.0)(5.75,10.2)(6,6.5)(6.25,5.5)(6.5,6.5)(6.75,6.0)(7,4.5)(7.25,4.0)(7.5,4.2)(7.75,4.5)(8,2.2)(8.25,4.0)(8.5,7.0)(8.75,8.5)(9,8.0)(9.25,7.0)(9.5,4.5)(9.75,6.5)(10,7.0)(10.25,3.5)(10.5,3.0)(10.75,3.0)(11,3.5)(11.25,6.5)(11.5,7.0)(11.75,9.0)(12,9.3)(12.25,8.0)(12.5,7.8)(12.75,8.5)(13,9.5)(13.25,11.5)(13.5,11.5)(13.75,12.0)(14,11.0)(14.25,15.0)(14.5,20.5)(14.75,22.5)(15,26.0)};
\addlegendentry{Control}
\addplot[opr] coordinates {(0.25,8.0)(0.5,11.2)(0.75,9.3)(1,8.0)(1.25,4.5)(1.5,4.8)(1.75,5.0)(2,4.0)(2.25,3.2)(2.5,5.5)(2.75,8.0)(3,7.2)(3.25,6.0)(3.5,6.5)(3.75,8.0)(4,9.0)(4.25,8.5)(4.5,8.2)(4.75,9.0)(5,10.2)(5.25,10.4)(5.5,9.5)(5.75,9.0)(6,8.8)(6.25,7.2)(6.5,7.0)(6.75,7.0)(7,7.5)(7.25,2.8)(7.5,3.5)(7.75,4.5)(8,4.0)(8.25,4.3)(8.5,4.5)(8.75,5.5)(9,4.5)(9.25,5.0)(9.5,9.0)(9.75,9.0)(10,7.0)};
\addlegendentry{Oper}
\addplot[ens] coordinates {(0.25,8.0)(0.5,9.8)(0.75,9.0)(1,7.8)(1.25,4.5)(1.5,4.0)(1.75,4.5)(2,3.8)(2.25,3.5)(2.5,5.5)(2.75,7.2)(3,6.8)(3.25,6.0)(3.5,6.5)(3.75,8.8)(4,8.5)(4.25,8.0)(4.5,7.8)(4.75,8.5)(5,8.2)(5.25,8.0)(5.5,8.3)(5.75,8.6)(6,7.8)(6.25,7.5)(6.5,7.0)(6.75,7.5)(7,7.0)(7.25,5.8)(7.5,5.5)(7.75,6.0)(8,5.5)(8.25,5.3)(8.5,5.5)(8.75,6.2)(9,5.8)(9.25,6.0)(9.5,6.8)(9.75,7.0)(10,7.2)(10.25,7.0)(10.5,7.8)(10.75,8.8)(11,8.5)(11.25,7.8)(11.5,8.0)(11.75,8.8)(12,8.3)(12.25,7.5)(12.5,7.0)(12.75,7.5)(13,7.0)(13.25,6.5)(13.5,6.8)(13.75,8.0)(14,7.5)(14.25,7.0)(14.5,7.5)(14.75,8.3)(15,8.2)};
\addlegendentry{Ens mn}
\node[debilt] at (rel axis cs:1,1) {De Bilt\\Windstoten};
\node[bron] at (rel axis cs:1,0) {Bron: ECMWF/KNMI};
\end{axis}
\begin{axis}[rightaxis, at={(421bp,213bp)}, ymin=0, ymax=35, ytick={0,5,...,35}]
\end{axis}

%================ Panel 5: T2m
\begin{axis}[panel, at={(32bp,29bp)}, ymin=-10, ymax=20, ytick={-10,-5,...,20}, ylabel={Celsius}]
\addplot[memb] coordinates {(0.25,3.5)(0.5,7.9)(1.25,7.4)(1.5,8.8)(2.25,2.5)(2.5,7.2)(3.25,7.5)(3.5,10.5)(4.25,7.5)(4.5,9.0)(5.25,7.0)(5.5,10.8)(6.25,5.5)(6.5,8.5)(7.25,5.0)(7.5,7.0)(8.25,5.5)(8.5,7.5)(9.25,6.0)(9.5,8.0)(10.25,5.0)(10.5,7.0)(11.25,4.5)(11.5,6.0)(12.25,3.0)(12.5,5.5)(13.25,2.5)(13.5,5.0)(14.25,3.0)(14.5,6.0)(15,4.0)};
\addplot[memb] coordinates {(0.25,3.4)(0.5,7.6)(1.25,7.7)(1.5,8.5)(2.25,-1.2)(2.5,5.5)(3.25,6.0)(3.5,8.2)(4.25,5.0)(4.5,7.5)(5.25,5.5)(5.5,8.5)(6.25,3.0)(6.5,6.5)(7.25,2.5)(7.5,4.5)(8.25,1.5)(8.5,5.0)(9.25,1.0)(9.5,4.0)(10.25,0.5)(10.5,4.0)(11.25,-1.0)(11.5,2.5)(12.25,-2.5)(12.5,1.5)(13.25,-3.5)(13.5,1.0)(14.25,-4.5)(14.5,1.5)(15,-1.0)};
\addplot[memb] coordinates {(0.25,3.5)(0.5,8.5)(1.25,7.8)(1.5,8.6)(2.25,1.0)(2.5,6.8)(3.25,7.0)(3.5,9.5)(4.25,8.0)(4.5,9.8)(5.25,7.5)(5.5,11.5)(6.25,6.0)(6.5,9.5)(7.25,6.5)(7.5,8.0)(8.25,6.0)(8.5,9.0)(9.25,5.0)(9.5,7.5)(10.25,4.0)(10.5,8.5)(11.25,2.0)(11.5,5.5)(12.25,0.5)(12.5,4.5)(13.25,2.0)(13.5,6.0)(14.25,3.5)(14.5,8.5)(15,5.0)};
\addplot[memb] coordinates {(0.25,3.5)(0.5,7.7)(1.25,7.5)(1.5,8.4)(2.25,3.0)(2.5,6.2)(3.25,6.5)(3.5,8.8)(4.25,6.0)(4.5,8.2)(5.25,6.2)(5.5,9.0)(6.25,3.5)(6.5,7.0)(7.25,3.5)(7.5,5.0)(8.25,2.5)(8.5,6.0)(9.25,2.5)(9.5,5.0)(10.25,1.5)(10.5,5.0)(11.25,0.0)(11.5,3.5)(12.25,-1.5)(12.5,2.5)(13.25,-2.5)(13.5,2.0)(14.25,-3.5)(14.5,2.5)(15,0.0)};
\addplot[memb] coordinates {(0.25,3.6)(0.5,7.9)(1.25,7.6)(1.5,8.7)(2.25,-0.5)(2.5,7.0)(3.25,7.2)(3.5,9.8)(4.25,7.0)(4.5,8.6)(5.25,6.8)(5.5,10.0)(6.25,5.0)(6.5,8.0)(7.25,4.0)(7.5,6.5)(8.25,3.5)(8.5,7.0)(9.25,4.5)(9.5,6.5)(10.25,3.0)(10.5,6.0)(11.25,3.5)(11.5,5.0)(12.25,2.5)(12.5,4.0)(13.25,0.0)(13.5,3.0)(14.25,-1.5)(14.5,3.5)(15,1.0)};
\addplot[memb] coordinates {(0.25,3.4)(0.5,7.8)(1.25,7.6)(1.5,8.5)(2.25,2.0)(2.5,6.0)(3.25,6.8)(3.5,8.5)(4.25,6.5)(4.5,8.8)(5.25,6.0)(5.5,9.2)(6.25,4.5)(6.5,7.2)(7.25,5.5)(7.5,5.5)(8.25,4.0)(8.5,6.5)(9.25,3.0)(9.5,6.0)(10.25,4.5)(10.5,5.5)(11.25,2.5)(11.5,4.5)(12.25,1.0)(12.5,4.0)(13.25,1.5)(13.5,4.0)(14.25,1.0)(14.5,4.5)(15,2.5)};
\addplot[memb] coordinates {(0.25,3.5)(0.5,7.8)(1.25,7.7)(1.5,8.7)(2.25,1.5)(2.5,6.6)(3.25,6.2)(3.5,9.2)(4.25,6.8)(4.5,8.4)(5.25,7.2)(5.5,9.8)(6.25,4.0)(6.5,7.8)(7.25,4.8)(7.5,6.2)(8.25,4.5)(8.5,7.8)(9.25,5.0)(9.5,7.0)(10.25,2.5)(10.5,6.5)(11.25,3.0)(11.5,5.5)(12.25,2.0)(12.5,3.5)(13.25,-1.5)(13.5,2.5)(14.25,-2.5)(14.5,3.0)(15,-1.5)};
\addplot[memb] coordinates {(0.25,3.5)(0.5,7.7)(1.25,7.5)(1.5,8.6)(2.25,2.5)(2.5,6.4)(3.25,7.0)(3.5,8.8)(4.25,5.5)(4.5,8.0)(5.25,6.6)(5.5,9.4)(6.25,4.8)(6.5,7.5)(7.25,3.0)(7.5,5.8)(8.25,3.0)(8.5,6.0)(9.25,3.5)(9.5,5.5)(10.25,3.5)(10.5,5.5)(11.25,1.5)(11.5,4.0)(12.25,0.0)(12.5,3.0)(13.25,-0.5)(13.5,3.5)(14.25,0.5)(14.5,4.0)(15,1.5)};
\addplot[memb] coordinates {(0.25,3.6)(0.5,7.8)(1.25,7.7)(1.5,8.5)(2.25,0.5)(2.5,6.8)(3.25,7.2)(3.5,9.6)(4.25,7.2)(4.5,9.2)(5.25,6.5)(5.5,10.2)(6.25,5.2)(6.5,8.2)(7.25,5.2)(7.5,6.8)(8.25,4.8)(8.5,7.2)(9.25,4.2)(9.5,7.2)(10.25,4.0)(10.5,7.5)(11.25,3.8)(11.5,6.5)(12.25,3.5)(12.5,6.0)(13.25,3.0)(13.5,5.5)(14.25,2.0)(14.5,5.0)(15,3.0)};
\addplot[memb] coordinates {(0.25,3.4)(0.5,7.9)(1.25,7.6)(1.5,8.6)(2.25,1.8)(2.5,6.2)(3.25,6.6)(3.5,8.6)(4.25,6.2)(4.5,8.0)(5.25,6.0)(5.5,8.8)(6.25,3.8)(6.5,6.8)(7.25,4.2)(7.5,5.5)(8.25,2.0)(8.5,5.5)(9.25,1.8)(9.5,4.8)(10.25,2.0)(10.5,4.5)(11.25,0.8)(11.5,3.0)(12.25,-1.0)(12.5,2.0)(13.25,-1.0)(13.5,1.5)(14.25,-2.0)(14.5,2.0)(15,-0.5)};
\addplot[memb] coordinates {(0.25,3.5)(0.5,7.8)(1.25,7.7)(1.5,8.8)(2.25,-1.5)(2.5,5.8)(3.25,6.4)(3.5,9.0)(4.25,6.6)(4.5,8.7)(5.25,7.0)(5.5,10.5)(6.25,4.2)(6.5,8.8)(7.25,3.8)(7.5,7.5)(8.25,5.0)(8.5,8.5)(9.25,3.0)(9.5,6.8)(10.25,3.0)(10.5,6.2)(11.25,2.0)(11.5,4.5)(12.25,1.5)(12.5,5.0)(13.25,0.5)(13.5,4.5)(14.25,-0.5)(14.5,4.5)(15,2.0)};
\addplot[memb] coordinates {(0.25,3.5)(0.5,7.8)(1.25,7.6)(1.5,8.6)(2.25,2.2)(2.5,6.5)(3.25,7.0)(3.5,9.0)(4.25,7.5)(4.5,8.4)(5.25,6.8)(5.5,9.6)(6.25,5.8)(6.5,7.0)(7.25,4.5)(7.5,6.2)(8.25,3.8)(8.5,6.4)(9.25,4.8)(9.5,6.0)(10.25,2.8)(10.5,5.2)(11.25,2.5)(11.5,4.0)(12.25,2.0)(12.5,3.2)(13.25,1.0)(13.5,3.2)(14.25,1.5)(14.5,3.5)(15,1.5)};
\addplot[memb] coordinates {(0.25,3.5)(0.5,7.8)(1.25,7.5)(1.5,8.5)(2.25,1.2)(2.5,6.4)(3.25,6.5)(3.5,9.2)(4.25,6.0)(4.5,8.6)(5.25,6.2)(5.5,9.8)(6.25,4.5)(6.5,7.8)(7.25,5.8)(7.5,6.6)(8.25,5.5)(8.5,7.5)(9.25,4.5)(9.5,7.5)(10.25,5.5)(10.5,6.8)(11.25,4.2)(11.5,6.8)(12.25,3.8)(12.5,5.5)(13.25,1.5)(13.5,4.0)(14.25,0.0)(14.5,4.8)(15,2.8)};
\addplot[memb] coordinates {(0.25,3.6)(0.5,7.9)(1.25,7.8)(1.5,8.7)(2.25,-1.0)(2.5,6.0)(3.25,7.2)(3.5,8.9)(4.25,7.0)(4.5,8.9)(5.25,5.8)(5.5,9.0)(6.25,3.2)(6.5,7.4)(7.25,3.0)(7.5,5.2)(8.25,2.8)(8.5,5.8)(9.25,2.2)(9.5,5.0)(10.25,1.0)(10.5,4.2)(11.25,-0.5)(11.5,2.8)(12.25,-2.0)(12.5,2.8)(13.25,-3.0)(13.5,1.8)(14.25,-3.8)(14.5,1.2)(15,-2.5)};
\addplot[memb] coordinates {(0.25,3.5)(0.5,7.7)(1.25,7.6)(1.5,8.6)(2.25,2.8)(2.5,6.8)(3.25,6.6)(3.5,9.4)(4.25,7.8)(4.5,9.4)(5.25,7.2)(5.5,11.0)(6.25,5.5)(6.5,9.0)(7.25,5.8)(7.5,7.2)(8.25,5.2)(8.5,8.0)(9.25,5.5)(9.5,8.5)(10.25,5.5)(10.5,7.8)(11.25,3.5)(11.5,7.0)(12.25,2.5)(12.5,5.8)(13.25,3.5)(13.5,6.5)(14.25,2.5)(14.5,7.0)(15,4.5)};
\addplot[memb] coordinates {(0.25,3.4)(0.5,7.8)(1.25,7.5)(1.5,8.4)(2.25,0.8)(2.5,6.6)(3.25,6.8)(3.5,8.6)(4.25,6.4)(4.5,8.2)(5.25,6.4)(5.5,9.4)(6.25,4.4)(6.5,7.6)(7.25,4.0)(7.5,6.0)(8.25,3.2)(8.5,6.2)(9.25,2.8)(9.5,5.2)(10.25,2.2)(10.5,5.0)(11.25,1.2)(11.5,3.5)(12.25,0.8)(12.5,3.6)(13.25,-2.0)(13.5,2.0)(14.25,-1.0)(14.5,2.8)(15,0.5)};
\addplot[memb] coordinates {(0.25,3.5)(0.5,7.9)(1.25,7.6)(1.5,8.6)(2.25,1.6)(2.5,6.3)(3.25,7.1)(3.5,9.3)(4.25,6.9)(4.5,8.5)(5.25,6.7)(5.5,10.0)(6.25,5.0)(6.5,8.0)(7.25,4.6)(7.5,6.4)(8.25,4.2)(8.5,6.8)(9.25,4.0)(9.5,6.4)(10.25,3.2)(10.5,6.0)(11.25,2.8)(11.5,4.8)(12.25,1.5)(12.5,4.2)(13.25,1.8)(13.5,4.4)(14.25,0.0)(14.5,4.2)(15,2.2)};
\addplot[memb] coordinates {(0.25,3.5)(0.5,7.8)(1.25,7.7)(1.5,8.7)(2.25,-0.2)(2.5,5.9)(3.25,6.9)(3.5,8.4)(4.25,5.8)(4.5,8.3)(5.25,6.3)(5.5,9.0)(6.25,4.2)(6.5,6.6)(7.25,3.4)(7.5,5.6)(8.25,3.6)(8.5,5.6)(9.25,3.8)(9.5,5.8)(10.25,2.5)(10.5,4.8)(11.25,2.0)(11.5,4.2)(12.25,0.2)(12.5,2.6)(13.25,-1.8)(13.5,3.0)(14.25,-3.0)(14.5,2.2)(15,-2.0)};
\addplot[black, line width=2bp, forget plot] coordinates {(0,0)(15,0)};
\addplot[ctl] coordinates {(0.25,3.5)(0.5,7.8)(0.75,8.4)(1,8.6)(1.25,7.5)(1.5,8.7)(1.75,5.0)(2,3.2)(2.25,2.5)(2.5,7.0)(2.75,6.8)(3,6.5)(3.25,7.8)(3.5,10.0)(3.75,9.8)(4,7.5)(4.25,5.0)(4.5,8.8)(4.75,8.0)(5,6.8)(5.25,6.3)(5.5,10.0)(5.75,8.0)(6,5.5)(6.25,4.0)(6.5,5.8)(6.75,3.2)(7,4.5)(7.25,4.8)(7.5,5.5)(7.75,5.8)(8,5.5)(8.25,6.0)(8.5,8.0)(8.75,7.5)(9,6.0)(9.25,5.0)(9.5,9.0)(9.75,6.5)(10,3.5)(10.25,1.0)(10.5,6.3)(10.75,5.0)(11,3.0)(11.25,2.5)(11.5,4.2)(11.75,3.0)(12,2.8)(12.25,2.8)(12.5,4.8)(12.75,4.5)(13,4.6)(13.25,8.0)(13.5,9.8)(13.75,9.0)(14,8.3)(14.25,8.0)(14.5,7.6)(14.75,7.0)(15,6.0)};
\addlegendentry{Control}
\addplot[opr] coordinates {(0.25,3.5)(0.5,7.8)(0.75,8.4)(1,8.6)(1.25,7.5)(1.5,8.8)(1.75,4.5)(2,3.0)(2.25,2.3)(2.5,6.5)(2.75,7.0)(3,8.5)(3.25,7.8)(3.5,10.3)(3.75,8.5)(4,7.5)(4.25,5.8)(4.5,7.8)(4.75,8.0)(5,7.0)(5.25,6.2)(5.5,9.8)(5.75,7.0)(6,5.5)(6.25,1.5)(6.5,6.5)(6.75,6.0)(7,5.6)(7.25,6.2)(7.5,5.6)(7.75,4.5)(8,4.0)(8.25,5.0)(8.5,7.5)(8.75,4.0)(9,6.2)(9.25,6.5)(9.5,8.2)(9.75,6.0)(10,5.8)};
\addlegendentry{Oper}
\addplot[ens] coordinates {(0.25,3.5)(0.5,7.8)(0.75,8.3)(1,8.5)(1.25,7.4)(1.5,8.6)(1.75,4.5)(2,2.4)(2.25,1.8)(2.5,6.5)(2.75,6.8)(3,6.5)(3.25,6.8)(3.5,9.0)(3.75,7.5)(4,6.0)(4.25,6.5)(4.5,8.5)(4.75,7.2)(5,6.0)(5.25,6.5)(5.5,9.5)(5.75,7.0)(6,5.0)(6.25,4.5)(6.5,7.5)(6.75,6.5)(7,5.0)(7.25,4.5)(7.5,6.0)(7.75,5.0)(8,4.0)(8.25,4.0)(8.5,6.8)(8.75,5.5)(9,4.5)(9.25,4.0)(9.5,6.2)(9.75,5.0)(10,3.5)(10.25,3.5)(10.5,5.8)(10.75,4.5)(11,3.0)(11.25,2.8)(11.5,4.5)(11.75,3.5)(12,2.2)(12.25,1.8)(12.5,3.8)(12.75,2.8)(13,1.5)(13.25,1.0)(13.5,3.6)(13.75,2.5)(14,1.5)(14.25,1.2)(14.5,4.0)(14.75,3.0)(15,2.0)};
\addlegendentry{Ens mn}
\node[debilt] at (rel axis cs:1,1) {De Bilt\\T2m};
\node[bron] at (rel axis cs:1,0) {Bron: ECMWF/KNMI};
\end{axis}
\begin{axis}[rightaxis, at={(32bp,29bp)}, ymin=-10, ymax=20, ytick={-10,-5,...,20}]
\end{axis}

%================ Panel 6: Sneeuwval/6 uur
\begin{axis}[panel, at={(421bp,29bp)}, ymin=0, ymax=5, ytick={0,1,...,5}, ylabel={cm}]
\addplot[memb] coordinates {(0.25,0)(2.25,0)(2.5,0.1)(2.75,0)(11,0)(11.25,0.1)(11.5,2.7)(11.75,0.1)(12,0)(15,0)};
\addplot[memb] coordinates {(0.25,0)(10,0)(10.25,0.15)(10.5,0.2)(10.75,0.05)(12,0.05)(12.25,0.4)(12.5,1.7)(12.75,0.3)(13,0.1)(13.5,0.05)(15,0)};
\addplot[memb] coordinates {(0.25,0)(7.25,0)(7.5,0.1)(7.75,0)(12.5,0)(12.75,0.3)(13,1.4)(13.25,0.3)(13.5,0.1)(14,0.05)(15,0)};
\addplot[memb] coordinates {(0.25,0)(13.5,0)(13.75,0.3)(14,0.9)(14.25,1.2)(14.5,0.4)(14.75,0.1)(15,0.05)};
\addplot[memb] coordinates {(0.25,0)(11,0)(11.25,0.05)(11.5,0.1)(11.75,0.15)(12,0.05)(12.5,0.2)(13,0.1)(13.5,0.2)(13.75,0.6)(14,0.3)(14.25,0.7)(14.5,0.2)(15,0.1)};
\addplot[memb] coordinates {(0.25,0)(12,0)(12.25,0.2)(12.5,0.1)(13,0.3)(13.25,0.1)(13.75,0.2)(14,0.1)(14.5,0.15)(15,0.05)};
\addplot[ctl] coordinates {(0.25,0)(15,0)};
\addlegendentry{Control}
\addplot[opr] coordinates {(0.25,0)(10,0)};
\addlegendentry{Oper}
\addplot[ens] coordinates {(0.25,0)(11,0)(11.5,0.06)(12,0.02)(12.5,0.06)(13,0.05)(13.5,0.03)(14,0.05)(14.5,0.06)(15,0.02)};
\addlegendentry{Ens mn}
\node[debilt] at (rel axis cs:1,1) {De Bilt\\Sneeuwval/6 uur};
\node[bron] at (rel axis cs:1,0) {Bron: ECMWF/KNMI};
\end{axis}
\begin{axis}[rightaxis, at={(421bp,29bp)}, ymin=0, ymax=5, ytick={0,1,...,5}]
\end{axis}
\end{tikzpicture}
\end{document}
